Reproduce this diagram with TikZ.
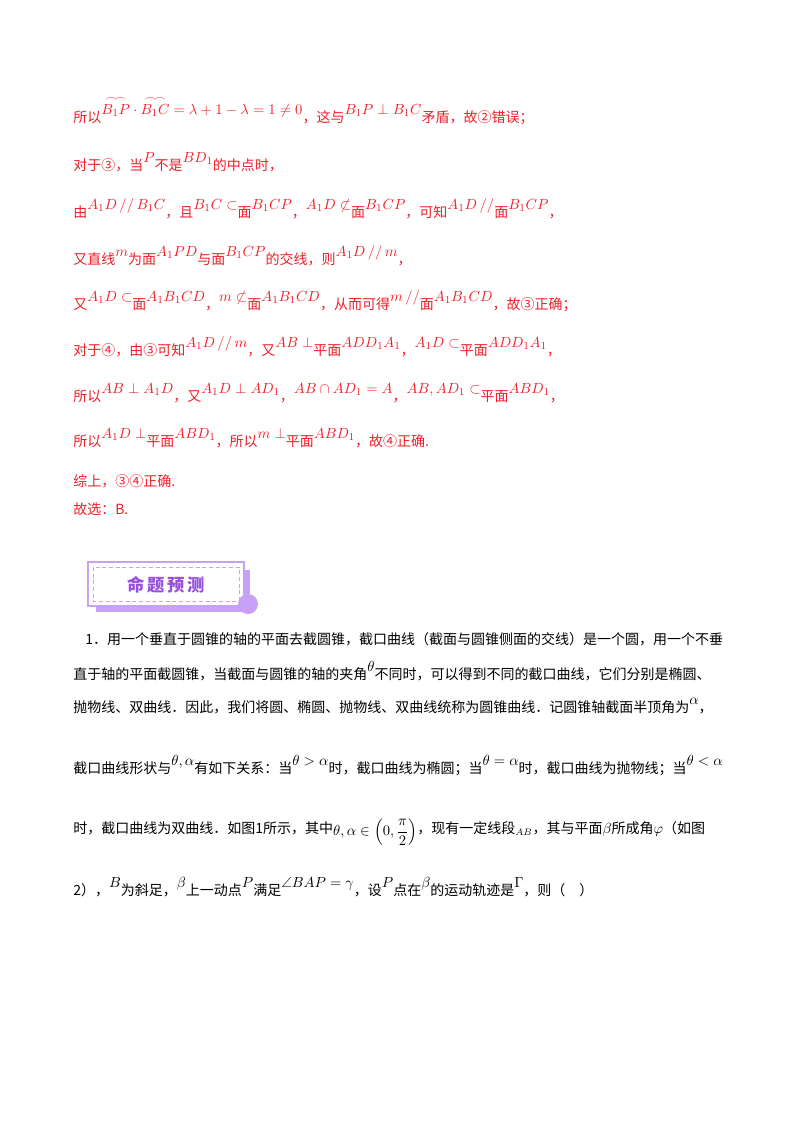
\documentclass[tikz,border=0pt]{standalone}
\usepackage{amsmath,amssymb}
\usepackage{fontspec}
\setmainfont{Noto Sans CJK SC}
\usepackage{tikz}
\definecolor{ans}{RGB}{240,30,40}
\definecolor{pur}{RGB}{150,80,220}
\definecolor{lpur}{RGB}{200,160,245}
\newcommand{\mr}[1]{\raisebox{6pt}{\fontsize{11}{11}\selectfont$#1$}}
\begin{document}
\begin{tikzpicture}[x=0.75pt,y=-0.75pt,
  red/.style={anchor=base west,inner sep=0,text=ans,font=\fontsize{10.5}{12}\selectfont},
  blk/.style={anchor=base west,inner sep=0,text=black,font=\fontsize{10.5}{12}\selectfont}]
\useasboundingbox (0,0) rectangle (800,1132);
\fill[white] (0,0) rectangle (800,1132);
\node[red] (l1) at (73,122) {所以\mr{\overset{\frown\!\frown}{B_1P}\cdot\overset{\frown\!\frown}{B_1C}=\lambda+1-\lambda=1\neq0}，这与\mr{B_1P\perp B_1C}矛盾，故②错误；};
\node[red] (l2) at (73,170) {对于③，当\mr{P}不是\mr{BD_1}的中点时，};
\node[red] (l3) at (73,217) {由\mr{A_1D\,//\,B_1C}，且\mr{B_1C\subset}面\mr{B_1CP}，\mr{A_1D\not\subset}面\mr{B_1CP}，可知\mr{A_1D\,//}面\mr{B_1CP}，};
\node[red] (l4) at (73,264) {又直线\mr{m}为面\mr{A_1PD}与面\mr{B_1CP}的交线，则\mr{A_1D\,//\,m}，};
\node[red] (l5) at (73,309) {又\mr{A_1D\subset}面\mr{A_1B_1CD}，\mr{m\not\subset}面\mr{A_1B_1CD}，从而可得\mr{m\,//}面\mr{A_1B_1CD}，故③正确；};
\node[red] (l6) at (73,355) {对于④，由③可知\mr{A_1D\,//\,m}，又\mr{AB\perp}平面\mr{ADD_1A_1}，\mr{A_1D\subset}平面\mr{ADD_1A_1}，};
\node[red] (l7) at (73,401) {所以\mr{AB\perp A_1D}，又\mr{A_1D\perp AD_1}，\mr{AB\cap AD_1=A}，\mr{AB,AD_1\subset}平面\mr{ABD_1}，};
\node[red] (l8) at (73,446) {所以\mr{A_1D\perp}平面\mr{ABD_1}，所以\mr{m\perp}平面\mr{ABD_1}，故④正确.};
\node[red] (l9) at (73,486) {综上，③④正确.};
\node[red] (l10) at (73,514) {故选：B.};
% banner
\fill[lpur] (96,570) rectangle (250,612);
\fill[white] (88,562) rectangle (244,606);
\draw[lpur,line width=0.8pt] (88,562) rectangle (244,606);
\draw[lpur,densely dashed] (93,567) rectangle (239,601);
\fill[lpur] (248,604) circle (10);
\node[inner sep=0,text=pur,font=\fontsize{13}{13}\selectfont\bfseries] (ban) at (166,585) {命\,题\,预\,测};
\node[blk] (p1) at (85,644) {1．用一个垂直于圆锥的轴的平面去截圆锥，截口曲线（截面与圆锥侧面的交线）是一个圆，用一个不垂};
\node[blk] (p2) at (73,679) {直于轴的平面截圆锥，当截面与圆锥的轴的夹角\mr{\theta}不同时，可以得到不同的截口曲线，它们分别是椭圆、};
\node[blk] (p3) at (73,712) {抛物线、双曲线．因此，我们将圆、椭圆、抛物线、双曲线统称为圆锥曲线．记圆锥轴截面半顶角为\mr{\alpha}，};
\node[blk] (p4) at (73,773) {截口曲线形状与\mr{\theta,\alpha}有如下关系：当\mr{\theta>\alpha}时，截口曲线为椭圆；当\mr{\theta=\alpha}时，截口曲线为抛物线；当\mr{\theta<\alpha}};
\node[blk] (p5) at (73,833) {时，截口曲线为双曲线．如图1所示，其中\raisebox{-2pt}{\fontsize{11}{11}\selectfont$\theta,\alpha\in\left(0,\dfrac{\pi}{2}\right)$}，现有一定线段$_{AB}$，其与平面$\beta$所成角$\varphi$（如图};
\node[blk] (p6) at (73,895) {2），\mr{B}为斜足，\mr{\beta}上一动点\mr{P}满足\mr{\angle BAP=\gamma}，设\mr{P}点在\mr{\beta}的运动轨迹是\mr{\Gamma}，则（\quad）};
\end{tikzpicture}
\end{document}
